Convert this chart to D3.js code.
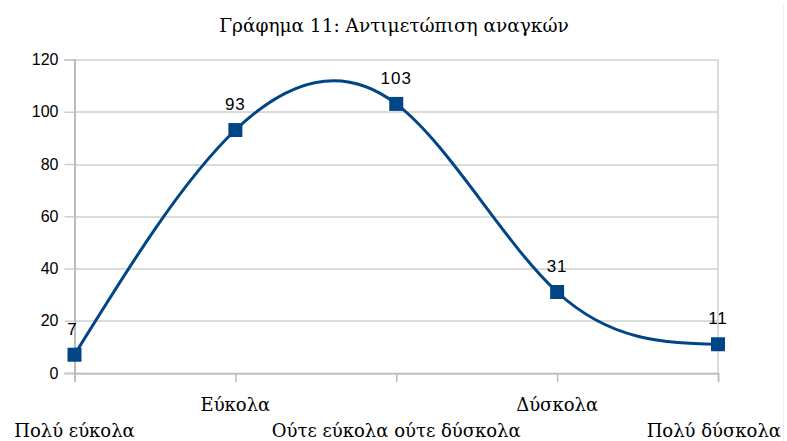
<!DOCTYPE html>
<html>
<head>
<meta charset="utf-8">
<script src="https://cdn.jsdelivr.net/npm/d3@7"></script>
<style>
  body { margin: 0; background: #fff; }
  svg { display: block; }
</style>
</head>
<body>
<svg id="chart" width="787" height="441"></svg>
<script>
// chart values
var categories = ["Πολύ εύκολα", "Εύκολα", "Ούτε εύκολα ούτε δύσκολα", "Δύσκολα", "Πολύ δύσκολα"];
var values = [7, 93, 103, 31, 11];
var yTicks = [0, 20, 40, 60, 80, 100, 120];
var title = "Γράφημα 11: Αντιμετώπιση αναγκών";

var svg = d3.select("#chart");
var W = 787, H = 441;
var margin = { top: 59.5, right: 69, bottom: 68, left: 74.5 };
var width = W - margin.left - margin.right,
    height = H - margin.top - margin.bottom;

var blue = "#004586";
var serif = "'DejaVu Serif', 'Liberation Serif', serif";
var sans = "'Liberation Sans', Arial, sans-serif";

var g = svg.append("g")
  .attr("transform", "translate(" + margin.left + "," + margin.top + ")");

var x = d3.scalePoint()
  .domain(categories)
  .range([0, width]);

var y = d3.scaleLinear()
  .domain([0, 120])
  .range([height, 0]);

// faint ruler line at the right side of the page
svg.append("line")
  .attr("x1", 783.5).attr("x2", 783.5)
  .attr("y1", 5).attr("y2", H)
  .attr("stroke", "#eeeeee");

// horizontal gridlines
g.append("g")
  .selectAll("line")
  .data(yTicks)
  .enter().append("line")
  .attr("x1", 0).attr("x2", width)
  .attr("y1", function(d) { return Math.round(y(d)) + 0.5; })
  .attr("y2", function(d) { return Math.round(y(d)) + 0.5; })
  .attr("stroke", "#cfcfcf")
  .attr("stroke-width", 1.5);

// right border of plot area
g.append("line")
  .attr("x1", width).attr("x2", width)
  .attr("y1", 0).attr("y2", height)
  .attr("stroke", "#cfcfcf")
  .attr("stroke-width", 1.5);

// y axis
var yAxis = g.append("g")
  .call(d3.axisLeft(y).tickValues(yTicks).tickSize(10).tickPadding(6));
yAxis.select(".domain").attr("stroke", "#bbbbbb").attr("stroke-width", 2);
yAxis.selectAll(".tick line").attr("stroke", "#cfcfcf").attr("stroke-width", 1.5);
yAxis.selectAll("text")
  .attr("fill", "#000")
  .style("font-family", sans)
  .style("font-size", "16px");

// x axis
var xAxis = g.append("g")
  .attr("transform", "translate(0," + height + ")")
  .call(d3.axisBottom(x).tickSize(9).tickFormat(""));
xAxis.select(".domain").attr("stroke", "#bbbbbb").attr("stroke-width", 1.5);
xAxis.selectAll(".tick line").attr("stroke", "#bbbbbb").attr("stroke-width", 1.5);

// staggered category labels
var xl = g.append("g").selectAll("text")
  .data(categories)
  .enter().append("text")
  .attr("x", function(d) { return x(d); })
  .attr("y", function(d, i) { return height + (i % 2 ? 38 : 64); })
  .attr("text-anchor", "middle")
  .style("font-family", serif)
  .style("font-size", "18px")
  .attr("fill", "#000")
  .text(function(d) { return d; });

// keep labels inside the page
xl.each(function() {
  var b = this.getBBox();
  var absL = b.x + margin.left, absR = b.x + b.width + margin.left;
  var cx = +d3.select(this).attr("x");
  if (absL < 0) d3.select(this).attr("x", cx - absL);
  else if (absR > W - 6) d3.select(this).attr("x", cx - (absR - W + 6));
});

// smoothed line
var line = d3.line()
  .x(function(d, i) { return x(categories[i]); })
  .y(function(d) { return y(d); })
  .curve(d3.curveNatural);

g.append("path")
  .datum(values)
  .attr("fill", "none")
  .attr("stroke", blue)
  .attr("stroke-width", 3)
  .attr("d", line);

// square markers
g.selectAll(".pt")
  .data(values)
  .enter().append("rect")
  .attr("class", "pt")
  .attr("x", function(d, i) { return x(categories[i]) - 7; })
  .attr("y", function(d) { return y(d) - 7; })
  .attr("width", 14)
  .attr("height", 14)
  .attr("fill", blue);

// value labels
g.selectAll(".lbl")
  .data(values)
  .enter().append("text")
  .attr("class", "lbl")
  .attr("x", function(d, i) { return x(categories[i]) + (i === 0 ? -2 : 0); })
  .attr("y", function(d) { return y(d) - 20; })
  .attr("text-anchor", "middle")
  .style("font-family", sans)
  .style("font-size", "17px")
  .style("letter-spacing", "1px")
  .attr("fill", "#000")
  .text(function(d) { return d; });

// title
svg.append("text")
  .attr("x", 394)
  .attr("y", 32)
  .attr("text-anchor", "middle")
  .style("font-family", serif)
  .style("font-size", "18.5px")
  .attr("fill", "#000")
  .text(title);
</script>
</body>
</html>
